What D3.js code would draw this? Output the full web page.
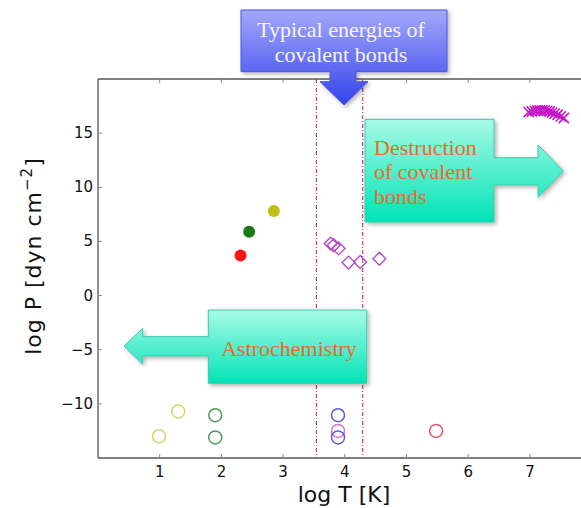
<!DOCTYPE html>
<html>
<head>
<meta charset="utf-8">
<script src="https://cdn.jsdelivr.net/npm/d3@7"></script>
<style>
  body { margin: 0; background: #fff; }
  svg { display: block; }
  .tick-label { font-family: 'DejaVu Sans', Verdana, sans-serif; font-size: 15px; fill: #111; }
  .axis-title { font-family: 'DejaVu Sans', Verdana, sans-serif; font-size: 22px; fill: #111; }
  .callout-text { font-family: 'Liberation Serif', 'Times New Roman', serif; font-size: 22px; }
</style>
</head>
<body>
<script>
// data (log T, log P)
const xTicks = [1, 2, 3, 4, 5, 6, 7]
const yTicks = [-10, -5, 0, 5, 10, 15]
const bondRange = [3.54, 4.29]

const filledT = [2.31, 2.45, 2.85]
const filledP = [3.7, 5.9, 7.8]
const filledColor = ['#ff1414', '#1c7a12', '#bfbf12']

const diamondT = [3.77, 3.82, 3.9, 4.06, 4.25, 4.56]
const diamondP = [4.8, 4.65, 4.35, 3.05, 3.1, 3.4]

const crossT = [6.98, 7.03, 7.08, 7.12, 7.16, 7.2, 7.24, 7.28, 7.32, 7.36, 7.4, 7.45, 7.5, 7.55]
const crossP = [16.95, 17.0, 17.05, 17.1, 17.1, 17.1, 17.1, 17.05, 17.0, 16.9, 16.8, 16.7, 16.55, 16.4]

const openT = [0.99, 1.3, 1.9, 1.9, 3.89, 3.89, 3.89, 5.48]
const openP = [-13.0, -10.7, -11.05, -13.1, -11.05, -12.5, -13.1, -12.5]
const openColor = ['#d4d46a', '#d4d46a', '#4c9a5c', '#4c9a5c', '#5a5ae2', '#d074d4', '#5a5ae2', '#e2566a']

const W = 581, H = 508
const margin = { left: 98, top: 79, bottom: 50 }

const svg = d3.select('body').append('svg')
    .attr('width', W).attr('height', H)

const x = d3.scaleLinear().domain([0, 8]).range([margin.left, margin.left + 8 * 61.7])
const y = d3.scaleLinear().domain([-15, 20]).range([H - margin.bottom, margin.top])

const defs = svg.append('defs')

const shadow = defs.append('filter').attr('id', 'shadow')
    .attr('x', '-20%').attr('y', '-20%').attr('width', '140%').attr('height', '140%')
shadow.append('feDropShadow')
    .attr('dx', 2).attr('dy', 2).attr('stdDeviation', 2)
    .attr('flood-color', '#000').attr('flood-opacity', 0.3)

const gradient = (id, y1, y2, c1, c2) => {
    const g = defs.append('linearGradient').attr('id', id)
        .attr('gradientUnits', 'userSpaceOnUse')
        .attr('x1', 0).attr('x2', 0).attr('y1', y1).attr('y2', y2)
    g.append('stop').attr('offset', 0).attr('stop-color', c1)
    g.append('stop').attr('offset', 1).attr('stop-color', c2)
}
gradient('blueGrad', 10, 105, '#a4a8fa', '#3442ec')
gradient('tealGrad1', 119, 222, '#a8fbe6', '#00e2b6')
gradient('tealGrad2', 310, 384, '#a8fbe6', '#00e2b6')

// frame: left, top, bottom
const x0 = x.range()[0], x1 = W
const frame = svg.append('g').attr('stroke', '#555').attr('stroke-width', 1.3).attr('fill', 'none')
frame.append('line').attr('x1', x0).attr('x2', x0).attr('y1', y(20)).attr('y2', y(-15))
frame.append('line').attr('x1', x0).attr('x2', x1).attr('y1', y(20)).attr('y2', y(20))
frame.append('line').attr('x1', x0).attr('x2', x1).attr('y1', y(-15)).attr('y2', y(-15))

// inward ticks
const tickG = svg.append('g').attr('stroke', '#888').attr('stroke-width', 1)
xTicks.forEach(t => {
    tickG.append('line').attr('x1', x(t)).attr('x2', x(t)).attr('y1', y(-15)).attr('y2', y(-15) - 4)
    tickG.append('line').attr('x1', x(t)).attr('x2', x(t)).attr('y1', y(20)).attr('y2', y(20) + 4)
})
yTicks.forEach(t => {
    tickG.append('line').attr('x1', x0).attr('x2', x0 + 4).attr('y1', y(t)).attr('y2', y(t))
})

svg.append('g').selectAll('text').data(xTicks).join('text')
    .attr('class', 'tick-label')
    .attr('x', d => x(d)).attr('y', y(-15) + 19)
    .attr('text-anchor', 'middle')
    .text(d => d)

svg.append('g').selectAll('text').data(yTicks).join('text')
    .attr('class', 'tick-label')
    .attr('x', x0 - 5).attr('y', d => y(d) + 5)
    .attr('text-anchor', 'end')
    .text(d => d < 0 ? '\u2212' + Math.abs(d) : d)

svg.append('text').attr('class', 'axis-title')
    .attr('x', 344).attr('y', 502)
    .attr('text-anchor', 'middle')
    .text('log T [K]')

const yTitle = svg.append('text').attr('class', 'axis-title')
    .attr('transform', 'translate(41,256) rotate(-90)')
    .attr('text-anchor', 'middle')
    .attr('letter-spacing', 1)
yTitle.append('tspan').text('log P [dyn cm')
yTitle.append('tspan').attr('dy', -9).attr('font-size', 15).text('\u22122')
yTitle.append('tspan').attr('dy', 9).text(']')

// typical bond energy range
svg.append('g').selectAll('line').data(bondRange).join('line')
    .attr('x1', d => x(d)).attr('x2', d => x(d))
    .attr('y1', y(20)).attr('y2', y(-15))
    .attr('stroke', '#c2305a').attr('stroke-width', 1.1)
    .attr('stroke-dasharray', '4,2,1,2')

// filled circles
svg.append('g').selectAll('circle').data(filledT).join('circle')
    .attr('cx', d => x(d)).attr('cy', (d, i) => y(filledP[i]))
    .attr('r', 6).attr('fill', (d, i) => filledColor[i])

// open diamonds
svg.append('g').selectAll('path').data(diamondT).join('path')
    .attr('transform', (d, i) => `translate(${x(d)},${y(diamondP[i])})`)
    .attr('d', d3.symbol(d3.symbolDiamond2, 105))
    .attr('fill', 'none').attr('stroke', '#b24ccc').attr('stroke-width', 1.4)

// crosses
svg.append('g').selectAll('path').data(crossT).join('path')
    .attr('transform', (d, i) => `translate(${x(d)},${y(crossP[i])})`)
    .attr('d', d3.symbol(d3.symbolX, 70))
    .attr('fill', 'none').attr('stroke', '#c414c4').attr('stroke-width', 1.5)

// open circles
svg.append('g').selectAll('circle').data(openT).join('circle')
    .attr('cx', d => x(d)).attr('cy', (d, i) => y(openP[i]))
    .attr('r', 6.5).attr('fill', 'none')
    .attr('stroke', (d, i) => openColor[i]).attr('stroke-width', 1.5)

// callouts
const callouts = svg.append('g')

callouts.append('path')
    .attr('d', 'M241,10 H447 V71.7 H356 V81.7 H368 L344,105 L320,81.7 H330 V71.7 H241 Z')
    .attr('fill', 'url(#blueGrad)').attr('stroke', '#4a54d8').attr('stroke-width', 1)
    .attr('filter', 'url(#shadow)')

callouts.append('path')
    .attr('d', 'M365,119.3 H494 V157.7 H538 V145 L563.3,171 L538,197.3 V185 H494 V222 H365 Z')
    .attr('fill', 'url(#tealGrad1)').attr('stroke', '#3cc8a6').attr('stroke-width', 1)
    .attr('filter', 'url(#shadow)')

callouts.append('path')
    .attr('d', 'M366.7,310 V383.3 H208.3 V356 H142.7 V364 L124,346 L142.7,328.3 V336.7 H208.3 V310 Z')
    .attr('fill', 'url(#tealGrad2)').attr('stroke', '#3cc8a6').attr('stroke-width', 1)
    .attr('filter', 'url(#shadow)')

const blueText = callouts.append('text').attr('class', 'callout-text')
    .attr('fill', '#f4f4ff').attr('text-anchor', 'middle')
blueText.append('tspan').attr('x', 341).attr('y', 37).text('Typical energies of')
blueText.append('tspan').attr('x', 341).attr('y', 62).text('covalent bonds')

const destText = callouts.append('text').attr('class', 'callout-text').attr('fill', '#ee6a1e')
;['Destruction', 'of covalent', 'bonds'].forEach((s, i) => {
    destText.append('tspan').attr('x', 374).attr('y', 155 + i * 24.3).text(s)
})

callouts.append('text').attr('class', 'callout-text')
    .attr('fill', '#ee6a1e').attr('text-anchor', 'middle')
    .attr('x', 289).attr('y', 356)
    .text('Astrochemistry')
</script>
</body>
</html>
